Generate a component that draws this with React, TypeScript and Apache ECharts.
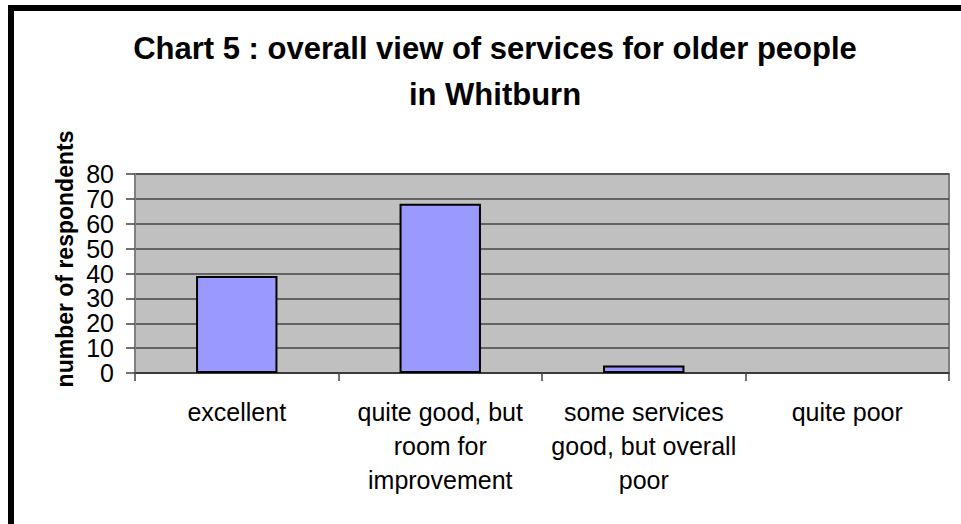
import React, { useEffect, useRef } from "react";
import * as echarts from "echarts";

const titleText = "Chart 5 : overall view of services for older people\nin Whitburn";
const yAxisTitle = "number of respondents";
const categories = [
  "excellent",
  "quite good, but\nroom for\nimprovement",
  "some services\ngood, but overall\npoor",
  "quite poor",
];
const respondents = [39, 68, 3, 0];
const yMin = 0;
const yMax = 80;
const yStep = 10;

export default function App() {
  const ref = useRef<HTMLDivElement>(null);
  useEffect(() => {
    document.body.style.margin = "0";
    const chart = echarts.init(ref.current!, null, { renderer: "svg" });
    const font = "Liberation Sans, Arial, Helvetica, sans-serif";
    chart.setOption({
      animation: false,
      backgroundColor: "#ffffff",
      title: {
        text: titleText,
        left: 490,
        top: 20,
        textAlign: "center",
        textStyle: {
          fontFamily: font,
          fontWeight: "bold",
          fontSize: 31,
          lineHeight: 46,
          color: "#000",
        },
      },
      grid: {
        left: 135,
        right: 12,
        top: 174,
        bottom: 151,
        show: true,
        backgroundColor: "#c0c0c0",
        borderColor: "#808080",
        borderWidth: 2,
      },
      xAxis: {
        type: "category",
        data: categories,
        axisLine: { show: true, lineStyle: { color: "#333", width: 1.5 } },
        axisTick: { show: true, length: 8, lineStyle: { color: "#444", width: 1.5 } },
        axisLabel: {
          margin: 22,
          fontFamily: font,
          fontSize: 25,
          lineHeight: 34,
          color: "#000",
          interval: 0,
        },
      },
      yAxis: {
        type: "value",
        min: yMin,
        max: yMax,
        interval: yStep,
        axisLine: { show: true, lineStyle: { color: "#808080", width: 2 } },
        axisTick: { show: true, length: 9, lineStyle: { color: "#444", width: 1.5 } },
        splitLine: { show: true, lineStyle: { color: "#444", width: 1.5 } },
        axisLabel: {
          margin: 21,
          fontFamily: font,
          fontSize: 25,
          lineHeight: 22,
          color: "#000",
        },
      },
      series: [
        {
          type: "bar",
          data: respondents.map((v) =>
            v === 0 ? { value: v, itemStyle: { borderWidth: 0 } } : v
          ),
          barWidth: "40%",
          itemStyle: { color: "#9999ff", borderColor: "#000", borderWidth: 2 },
        },
      ],
      graphic: [
        {
          type: "rect",
          shape: { x: 11, y: 8, width: 2000, height: 2000 },
          style: { fill: "none", stroke: "#000", lineWidth: 6 },
          silent: true,
        },
        {
          type: "text",
          x: 65,
          y: 259,
          rotation: Math.PI / 2,
          style: {
            text: yAxisTitle,
            fontFamily: font,
            fontWeight: "bold",
            fontSize: 23,
            fill: "#000",
            textAlign: "center",
            textVerticalAlign: "middle",
          },
        },
      ],
    });
    return () => chart.dispose();
  }, []);
  return <div ref={ref} style={{ width: 961, height: 524 }} />;
}
